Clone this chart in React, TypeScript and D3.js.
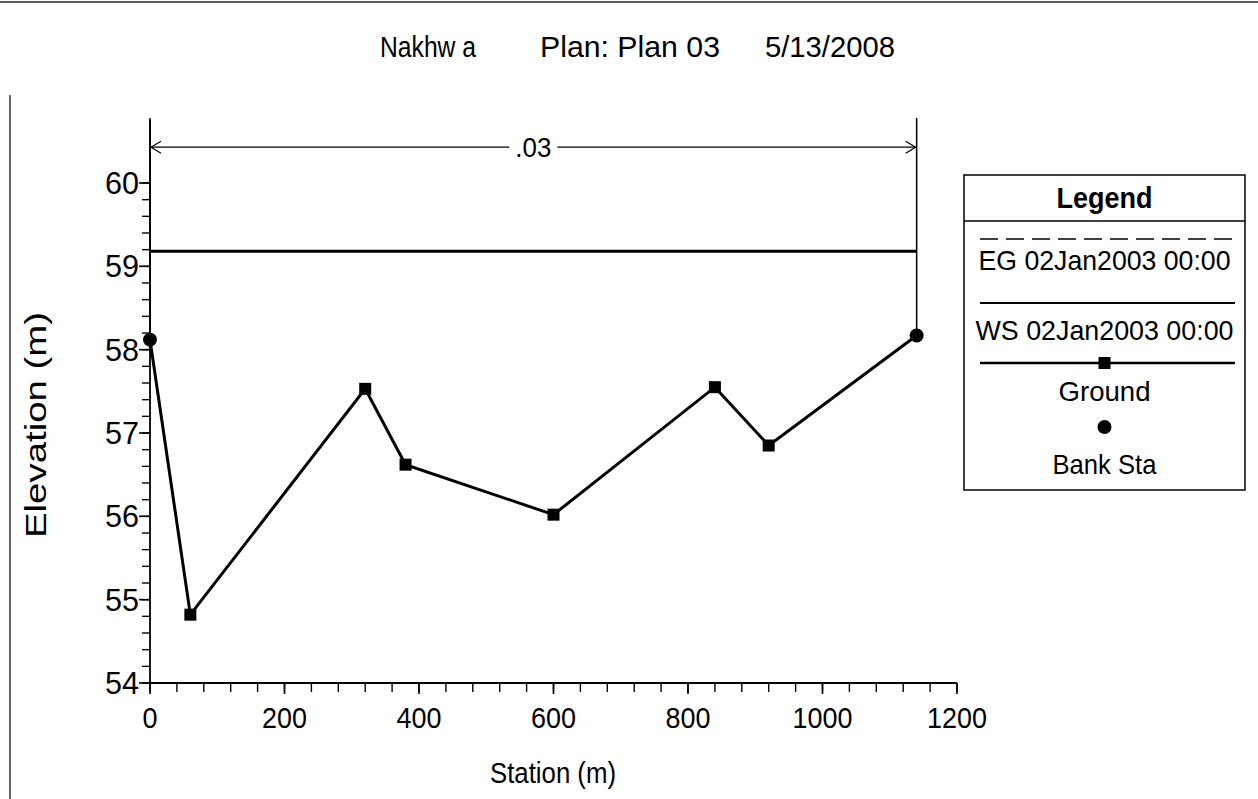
import React from "react";
import * as d3 from "d3";

// Cross section "Nakhwa", Plan 03
const stations = [0, 60, 320, 380, 600, 840, 920, 1140];
const groundElev = [58.12, 54.82, 57.53, 56.62, 56.02, 57.55, 56.85, 58.17];
const bankStations = [0, 1140];
const wsElev = 59.18;
const egElev = 59.18;
const nValues = [".03"];
const nBounds = [0, 1140];
const nLabelElev = 60.43;
const xTicks = [0, 200, 400, 600, 800, 1000, 1200];
const yTicks = [54, 55, 56, 57, 58, 59, 60];
const legendItems = ["EG 02Jan2003 00:00", "WS 02Jan2003 00:00", "Ground", "Bank Sta"];
const titleParts = ["Nakhw a", "Plan: Plan 03", "5/13/2008"];

const W = 1258;
const H = 799;
const FONT = "'Liberation Sans', Arial, Helvetica, sans-serif";

export default function App() {
  const x = d3.scaleLinear().domain([0, 1200]).range([150, 957]);
  const y = d3.scaleLinear().domain([54, 60]).range([683, 183]);
  const yTop = 120;

  const ground = stations.map((s, i) => [s, groundElev[i]] as [number, number]);
  const line = d3
    .line<[number, number]>()
    .x((d) => x(d[0]))
    .y((d) => y(d[1]));

  const bankPts = bankStations.map((s) => [s, groundElev[stations.indexOf(s)]] as [number, number]);
  const innerPts = ground.filter((d) => !bankStations.includes(d[0]));

  const xMinor = d3.range(0, 1200 + 1, 40);
  const yMinor = d3.range(54, 60.001, 0.2);

  const wsLeft = bankStations[0];
  const wsRight = bankStations[1];

  // n-value annotation
  const nx0 = x(nBounds[0]);
  const nx1 = x(nBounds[1]);
  const ny = y(nLabelElev);
  const nMid = (nx0 + nx1) / 2;
  const gap = 24;

  // legend geometry
  const L = { x0: 964, x1: 1245, y0: 175, y1: 490, head: 221 };
  const lx = (L.x0 + L.x1) / 2;

  return (
    <svg
      width={W}
      height={H}
      style={{ position: "absolute", left: 0, top: 0, background: "#fff" }}
      fontFamily={FONT}
    >
      <rect x={0} y={0} width={W} height={H} fill="#fff" />
      {/* page frame */}
      <line x1={0} x2={W} y1={2} y2={2} stroke="#222" strokeWidth={1.5} />
      <line x1={10} x2={10} y1={95} y2={H} stroke="#333" strokeWidth={1.5} />

      {/* title */}
      <g fontSize={30} textAnchor="start">
        <text x={380} y={57} textLength={96} lengthAdjust="spacingAndGlyphs">{titleParts[0]}</text>
        <text x={540} y={57} textLength={180} lengthAdjust="spacingAndGlyphs">{titleParts[1]}</text>
        <text x={765} y={57} textLength={130} lengthAdjust="spacingAndGlyphs">{titleParts[2]}</text>
      </g>

      {/* EG (dashed) under WS */}
      <line
        x1={x(wsLeft)}
        x2={x(wsRight)}
        y1={y(egElev)}
        y2={y(egElev)}
        stroke="#000"
        strokeWidth={1.5}
        strokeDasharray="18 8"
      />
      {/* water surface */}
      <line x1={x(wsLeft)} x2={x(wsRight)} y1={y(wsElev)} y2={y(wsElev)} stroke="#000" strokeWidth={3} />

      {/* n-value zone boundaries */}
      {nBounds.map((b, i) => (
        <line
          key={"nb" + i}
          x1={x(b)}
          x2={x(b)}
          y1={yTop - 2}
          y2={y(groundElev[stations.indexOf(b)])}
          stroke="#000"
          strokeWidth={1.5}
        />
      ))}
      <line x1={nx0} x2={nMid - gap} y1={ny} y2={ny} stroke="#000" strokeWidth={1.2} />
      <line x1={nMid + gap} x2={nx1} y1={ny} y2={ny} stroke="#000" strokeWidth={1.2} />
      <path
        d={`M${nx0 + 11},${ny - 6}L${nx0 + 1},${ny}L${nx0 + 11},${ny + 6}`}
        fill="none"
        stroke="#000"
        strokeWidth={1.2}
      />
      <path
        d={`M${nx1 - 11},${ny - 6}L${nx1 - 1},${ny}L${nx1 - 11},${ny + 6}`}
        fill="none"
        stroke="#000"
        strokeWidth={1.2}
      />
      <text x={nMid} y={ny + 10} fontSize={28} textAnchor="middle" textLength={36} lengthAdjust="spacingAndGlyphs">
        {nValues[0]}
      </text>

      {/* ground */}
      <path d={line(ground) || ""} fill="none" stroke="#000" strokeWidth={3} />
      {innerPts.map((d, i) => (
        <rect key={"g" + i} x={x(d[0]) - 6} y={y(d[1]) - 6} width={12} height={12} fill="#000" />
      ))}
      {bankPts.map((d, i) => (
        <circle key={"b" + i} cx={x(d[0])} cy={y(d[1])} r={7} fill="#000" />
      ))}

      {/* y axis */}
      <line x1={150} x2={150} y1={yTop} y2={683} stroke="#000" strokeWidth={1.8} />
      {yMinor.map((v, i) => (
        <line key={"ym" + i} x1={142} x2={150} y1={y(v)} y2={y(v)} stroke="#000" strokeWidth={1.4} />
      ))}
      {yTicks.map((v) => (
        <g key={"yt" + v}>
          <line x1={139} x2={150} y1={y(v)} y2={y(v)} stroke="#000" strokeWidth={1.6} />
          <text x={139} y={y(v) + 11} fontSize={31} textAnchor="end" textLength={34} lengthAdjust="spacingAndGlyphs">
            {v}
          </text>
        </g>
      ))}
      <text
        transform={`translate(46, 425) rotate(-90)`}
        fontSize={29}
        textAnchor="middle"
        textLength={226}
        lengthAdjust="spacingAndGlyphs"
      >
        Elevation (m)
      </text>

      {/* x axis */}
      <line x1={150} x2={957} y1={683} y2={683} stroke="#000" strokeWidth={1.8} />
      {xMinor.map((v, i) => (
        <line key={"xm" + i} x1={x(v)} x2={x(v)} y1={683} y2={692} stroke="#000" strokeWidth={1.4} />
      ))}
      {xTicks.map((v) => (
        <g key={"xt" + v}>
          <line x1={x(v)} x2={x(v)} y1={683} y2={694} stroke="#000" strokeWidth={1.6} />
          <text
            x={x(v)}
            y={728}
            fontSize={30}
            textAnchor="middle"
            textLength={String(v).length * 15}
            lengthAdjust="spacingAndGlyphs"
          >
            {v}
          </text>
        </g>
      ))}
      <text x={553} y={783} fontSize={29} textAnchor="middle" textLength={126} lengthAdjust="spacingAndGlyphs">
        Station (m)
      </text>

      {/* legend */}
      <rect x={L.x0} y={L.y0} width={L.x1 - L.x0} height={L.y1 - L.y0} fill="#fff" stroke="#000" strokeWidth={1.5} />
      <line x1={L.x0} x2={L.x1} y1={L.head} y2={L.head} stroke="#000" strokeWidth={1.5} />
      <text x={lx} y={208} fontSize={29} fontWeight="bold" textAnchor="middle" textLength={96} lengthAdjust="spacingAndGlyphs">
        Legend
      </text>
      <line x1={980} x2={1235} y1={239} y2={239} stroke="#000" strokeWidth={1.5} strokeDasharray="18 8" />
      <text x={lx} y={270} fontSize={28} textAnchor="middle" textLength={252} lengthAdjust="spacingAndGlyphs">
        {legendItems[0]}
      </text>
      <line x1={980} x2={1235} y1={303} y2={303} stroke="#000" strokeWidth={2} />
      <text x={lx} y={340} fontSize={28} textAnchor="middle" textLength={258} lengthAdjust="spacingAndGlyphs">
        {legendItems[1]}
      </text>
      <line x1={980} x2={1235} y1={363} y2={363} stroke="#000" strokeWidth={2.6} />
      <rect x={lx - 6} y={357} width={12} height={12} fill="#000" />
      <text x={lx} y={401} fontSize={28} textAnchor="middle" textLength={92} lengthAdjust="spacingAndGlyphs">
        {legendItems[2]}
      </text>
      <circle cx={lx} cy={427} r={7} fill="#000" />
      <text x={lx} y={474} fontSize={28} textAnchor="middle" textLength={104} lengthAdjust="spacingAndGlyphs">
        {legendItems[3]}
      </text>
    </svg>
  );
}
